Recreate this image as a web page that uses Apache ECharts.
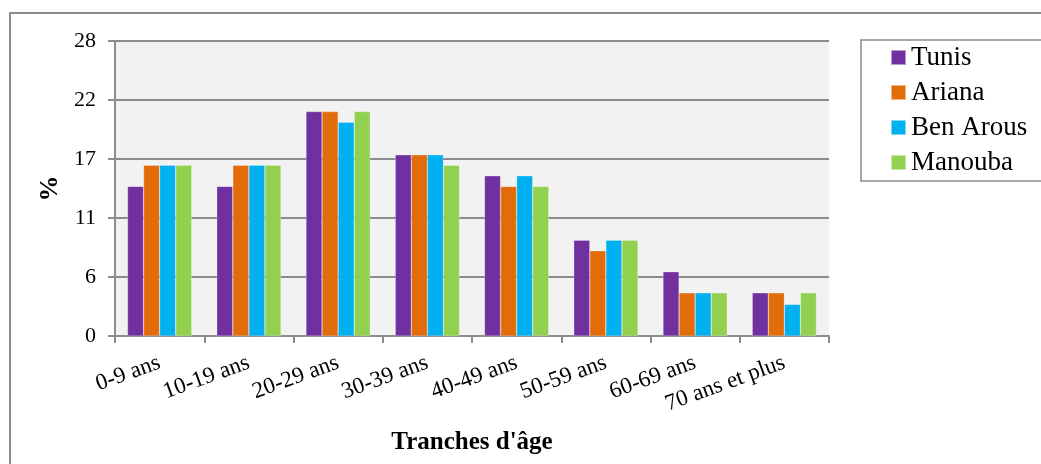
<!DOCTYPE html>
<html>
<head>
<meta charset="utf-8">
<script src="https://cdn.jsdelivr.net/npm/echarts@6/dist/echarts.min.js"></script>
<style>html,body{margin:0;padding:0;background:#fff}#c{width:1041px;height:464px}</style>
</head>
<body>
<div id="c"></div>
<script>
const categories = ['0-9 ans','10-19 ans','20-29 ans','30-39 ans','40-49 ans','50-59 ans','60-69 ans','70 ans et plus'];
const tunis    = [14.2, 14.2, 21.3, 17.2, 15.2, 9.1, 6.1, 4.1];
const ariana   = [16.2, 16.2, 21.3, 17.2, 14.2, 8.1, 4.1, 4.1];
const benArous = [16.2, 16.2, 20.3, 17.2, 15.2, 9.1, 4.1, 3.0];
const manouba  = [16.2, 16.2, 21.3, 16.2, 14.2, 9.1, 4.1, 4.1];
const seriesNames = ['Tunis','Ariana','Ben Arous','Manouba'];
const colors = ['#7030a0','#e36c0a','#00b0f0','#92d050'];

const FONT = 'Liberation Serif';
const chart = echarts.init(document.getElementById('c'));
const mk = (name, data, i) => ({
  name, type: 'bar', data, barGap: '0%', barCategoryGap: '28%',
  itemStyle: { color: colors[i], borderColor: 'rgba(255,255,255,0.5)', borderWidth: 0.5 },
  emphasis: { disabled: true }
});
chart.setOption({
  animation: false,
  textStyle: { fontFamily: FONT },
  graphic: [
    { type: 'rect', shape: { x: 10, y: 13, width: 1040, height: 460 },
      style: { fill: null, stroke: '#8c8c8c', lineWidth: 2 }, z: -1 },
    { type: 'rect', shape: { x: 861, y: 40, width: 190, height: 141 },
      style: { fill: '#fff', stroke: '#8c8c8c', lineWidth: 1.5 }, z: -1 }
  ],
  grid: { left: 115, top: 41, width: 714, height: 295, backgroundColor: '#f2f2f2', show: true, borderWidth: 0 },
  legend: {
    orient: 'vertical', left: 890, top: 44, padding: 0, itemWidth: 15, itemHeight: 15, itemGap: 8,
    icon: 'rect',
    textStyle: { fontFamily: FONT, fontSize: 27, lineHeight: 27, color: '#000', padding: [0,0,0,0] },
    data: seriesNames
  },
  xAxis: {
    type: 'category', data: categories,
    name: "Tranches d'âge", nameLocation: 'middle', nameGap: 94,
    nameTextStyle: { fontFamily: FONT, fontSize: 25, fontWeight: 'bold', color: '#000' },
    axisLine: { lineStyle: { color: '#8c8c8c', width: 2 } },
    axisTick: { show: true, length: 7, lineStyle: { color: '#8c8c8c', width: 2 }, alignWithLabel: false },
    axisLabel: { rotate: 20, fontFamily: FONT, fontSize: 23, color: '#000', margin: 26, interval: 0 }
  },
  yAxis: {
    type: 'value', min: 0, max: 28, interval: 5.6,
    name: '%', nameLocation: 'middle', nameGap: 51, nameRotate: 90,
    nameTextStyle: { fontFamily: FONT, fontSize: 26, fontWeight: 'bold', color: '#000' },
    axisLine: { show: true, lineStyle: { color: '#8c8c8c', width: 2 } },
    axisTick: { show: true, length: 7, inside: false, lineStyle: { color: '#8c8c8c', width: 2 } },
    splitLine: { lineStyle: { color: '#8c8c8c', width: 2 } },
    axisLabel: { fontFamily: FONT, fontSize: 22, color: '#000', margin: 19, formatter: v => Math.round(v) }
  },
  series: [mk(seriesNames[0], tunis, 0), mk(seriesNames[1], ariana, 1), mk(seriesNames[2], benArous, 2), mk(seriesNames[3], manouba, 3)]
});
</script>
</body>
</html>
